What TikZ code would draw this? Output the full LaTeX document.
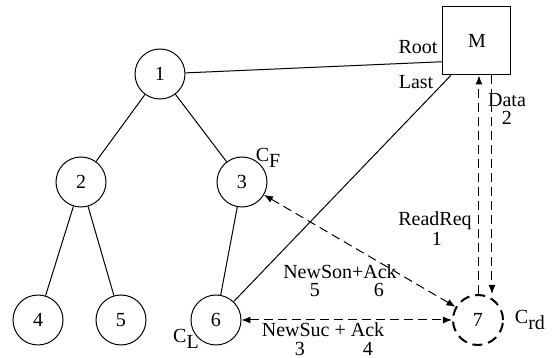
\documentclass[tikz,border=0pt]{standalone}
\usepackage{fontspec}
\setmainfont{Liberation Serif}
\usetikzlibrary{arrows.meta,calc}
\tikzset{
  tnode/.style={draw,circle,minimum size=25pt,inner sep=0pt,line width=0.5pt},
  cnode/.style={tnode,line width=1pt,dash pattern=on 5pt off 3pt},
  mbox/.style={draw,minimum size=34pt,inner sep=0pt,line width=0.5pt},
  lbl/.style={inner sep=0pt},
  msg/.style={line width=0.5pt,dash pattern=on 4.5pt off 2.5pt},
  tip/.tip={Latex[length=4.5pt,width=3.5pt]}
}
\begin{document}
\begin{tikzpicture}[x=0.5pt,y=-0.5pt]
\useasboundingbox (0,0) rectangle (559,358);
% tree
\node[tnode] (n1) at (160,74) {1};
\node[tnode] (n2) at (81,182) {2};
\node[tnode] (n3) at (242,182) {3};
\node[tnode] (n4) at (38,320) {4};
\node[tnode] (n5) at (121,320) {5};
\node[tnode] (n6) at (216,320) {6};
\node[cnode] (n7) at (478,320) {7};
\node[mbox] (M) at (477,41) {M};
\draw[line width=0.5pt] (n1) -- (n2);
\draw[line width=0.5pt] (n1) -- (n3);
\draw[line width=0.5pt] (n2) -- (n4);
\draw[line width=0.5pt] (n2) -- (n5);
\draw[line width=0.5pt] (n3) -- (n6);
% pointers of M
\coordinate (mroot) at (M.211);
\coordinate (mlast) at ($(M.south west)!0.12!(M.south east)$);
\draw[line width=0.5pt] (n1) -- (mroot);
\draw[line width=0.5pt] (n6) -- (mlast);
\node[lbl] (root) at (418,47) {Root};
\node[lbl] (last) at (416,82) {Last};
% messages
\coordinate (up) at ([xshift=0.5]n7.north);
\coordinate (dn) at ([xshift=7]n7.north);
\draw[msg,-tip] (up) -- (up |- M.south);
\draw[msg,-tip] (dn |- M.south) -- (dn);
\draw[msg,tip-tip] (n3) -- (n7);
\draw[msg,tip-tip] (n6) -- (n7);
\node[lbl] (data) at (507,100) {Data};
\node[lbl] (d2) at (507,118) {2};
\node[lbl] (rreq) at (435,221) {ReadReq};
\node[lbl] (r1) at (437,239) {1};
\node[lbl] (nson) at (340,272) {NewSon+Ack};
\node[lbl] (s5) at (315,290) {5};
\node[lbl] (s6) at (379,290) {6};
\node[lbl] (nsuc) at (323,330) {NewSuc + Ack};
\node[lbl] (u3) at (300,349) {3};
\node[lbl] (u4) at (368,349) {4};
% roles
\node[lbl] (cf) at (268,158) {C\raisebox{-0.6ex}{F}};
\node[lbl] (cl) at (186,339) {C\raisebox{-0.6ex}{L}};
\node[lbl] (crd) at (530,320) {C\raisebox{-0.6ex}{rd}};
\end{tikzpicture}
\end{document}
